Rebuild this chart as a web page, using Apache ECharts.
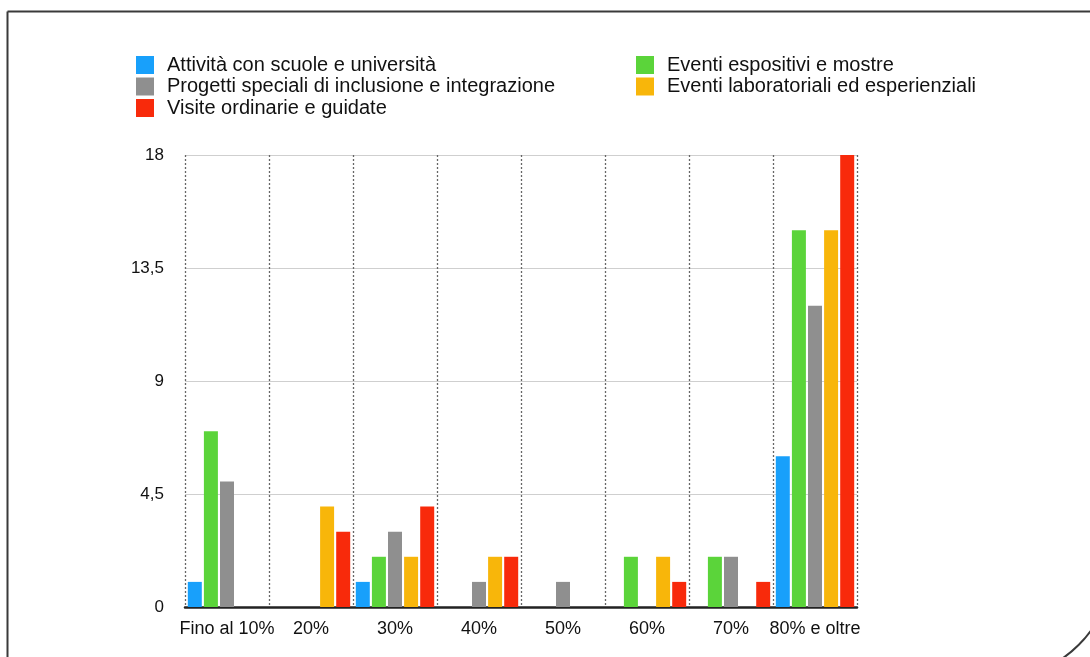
<!DOCTYPE html>
<html>
<head>
<meta charset="utf-8">
<script src="https://cdn.jsdelivr.net/npm/echarts@6/dist/echarts.min.js"></script>
<style>
  html, body { margin: 0; padding: 0; background: #fff; }
  #chart { width: 1090px; height: 657px; }
</style>
</head>
<body>
<div id="chart"></div>
<script>
// Fasce di copertura percentuale
const categories = ['Fino al 10%', '20%', '30%', '40%', '50%', '60%', '70%', '80% e oltre'];

// Numero di attività per fascia, una serie per tipologia
const scuole      = [1, 0, 1, 0, 0, 0, 0, 6];
const espositivi  = [7, 0, 2, 0, 0, 2, 2, 15];
const progetti    = [5, 0, 3, 1, 1, 0, 2, 12];
const laboratori  = [0, 4, 2, 2, 0, 2, 0, 15];
const visite      = [0, 3, 4, 2, 0, 1, 1, 18];

const seriesNames = [
  'Attività con scuole e università',
  'Eventi espositivi e mostre',
  'Progetti speciali di inclusione e integrazione',
  'Eventi laboratoriali ed esperienziali',
  'Visite ordinarie e guidate'
];
const seriesValues = [scuole, espositivi, progetti, laboratori, visite];
const seriesColors = ['#18A0FB', '#5BD43A', '#8F8F8F', '#F8B60A', '#F82A0B'];

// Tacche dell'asse verticale
const yMin = 0, yMax = 18, yStep = 4.5;

const font = '"Liberation Sans", Arial, Helvetica, sans-serif';

const legendCommon = {
  orient: 'vertical',
  top: 50,
  itemWidth: 18,
  itemHeight: 18,
  itemGap: 1.5,
  icon: 'rect',
  selectedMode: false,
  textStyle: { fontSize: 20, lineHeight: 20, color: '#111', fontFamily: font, padding: [0, 0, 0, 8] }
};

const chart = echarts.init(document.getElementById('chart'), null, { renderer: 'canvas' });
chart.setOption({
  backgroundColor: '#fff',
  animation: false,
  graphic: [{
    type: 'rect',
    silent: true,
    shape: { x: 7.5, y: 11.5, width: 1105, height: 667, r: [0, 0, 115, 0] },
    style: { fill: 'none', stroke: '#3a3a3a', lineWidth: 2 }
  }],
  legend: [
    Object.assign({}, legendCommon, {
      left: 131,
      data: [seriesNames[0], seriesNames[2], seriesNames[4]]
    }),
    Object.assign({}, legendCommon, {
      left: 631,
      data: [seriesNames[1], seriesNames[3]]
    })
  ],
  grid: { left: 185, right: 233, top: 155, bottom: 50, containLabel: false },
  xAxis: {
    type: 'category',
    data: categories,
    boundaryGap: true,
    axisLine: { show: true, lineStyle: { color: '#222', width: 2.5 } },
    axisTick: { show: false },
    axisLabel: { fontSize: 18, color: '#111', fontFamily: font, margin: 13, interval: 0 },
    splitLine: { show: true, lineStyle: { color: '#666', type: [2, 2], width: 1.3 } }
  },
  yAxis: {
    type: 'value',
    min: yMin,
    max: yMax,
    interval: yStep,
    axisLine: { show: false },
    axisTick: { show: false },
    axisLabel: {
      fontSize: 17, color: '#111', fontFamily: font, margin: 21,
      formatter: v => String(v).replace('.', ',')
    },
    splitLine: { show: true, lineStyle: { color: '#cfcfcf', width: 1 } }
  },
  series: seriesNames.map((name, i) => ({
    name: name,
    type: 'bar',
    data: seriesValues[i],
    barWidth: 14,
    barGap: '15%',
    itemStyle: { color: seriesColors[i] }
  }))
});
</script>
</body>
</html>
